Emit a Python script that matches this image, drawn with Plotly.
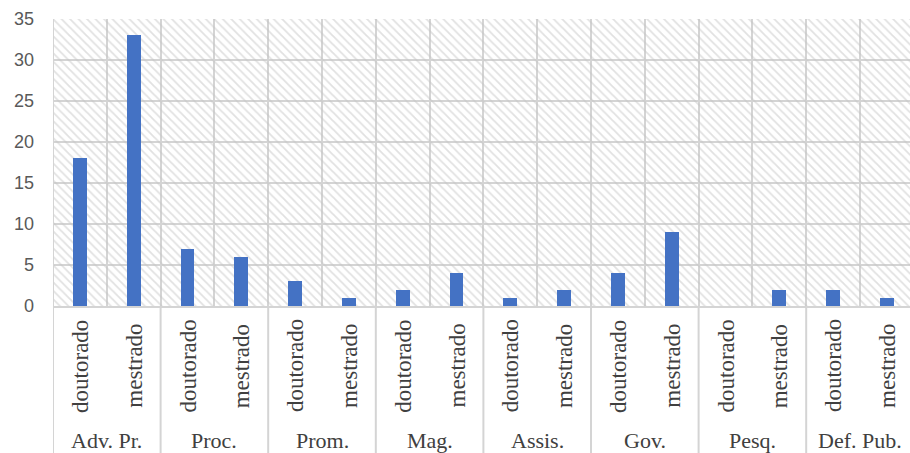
import plotly.graph_objects as go

# Categories and counts
groups = ["Adv. Pr.", "Proc.", "Prom.", "Mag.", "Assis.", "Gov.", "Pesq.", "Def. Pub."]
levels = ["doutorado", "mestrado"]
doutorado = [18, 7, 3, 2, 1, 4, 0, 2]
mestrado = [33, 6, 1, 4, 2, 9, 2, 1]
y_ticks = [0, 5, 10, 15, 20, 25, 30, 35]

BAR_COLOR = "#4472C4"
GRID = "#d4d4d4"
TEXT = "#404040"
SERIF = "Liberation Serif, Times New Roman, serif"

x_max = -0.5 + 857 / 53.8

# flatten group/level pairs into numeric slot positions
xs, ys = [], []
for g in range(len(groups)):
    xs += [2 * g, 2 * g + 1]
    ys += [doutorado[g], mestrado[g]]

fig = go.Figure()

# hatched plot background, drawn as one wide bar behind the data bars
fig.add_trace(go.Bar(
    x=[(x_max - 0.5) / 2], y=[y_ticks[-1]], width=[x_max + 0.5],
    marker=dict(color="rgba(0,0,0,0)", line=dict(width=0),
                pattern=dict(shape="\\", size=6, solidity=0.3,
                             fgcolor="#c4c4c4", bgcolor="rgba(0,0,0,0)")),
    hoverinfo="skip", showlegend=False,
))

fig.add_trace(go.Bar(
    x=xs, y=ys, width=0.26, marker=dict(color=BAR_COLOR, line=dict(width=0)),
    showlegend=False,
))

# inner labels (rotated) and group labels
for g, name in enumerate(groups):
    for k, lev in enumerate(levels):
        fig.add_annotation(
            x=2 * g + k, y=0, xref="x", yref="y",
            text=lev, textangle=-90, showarrow=False,
            xanchor="center", yanchor="middle", yshift=-60,
            font=dict(family=SERIF, size=23, color=TEXT),
        )
    fig.add_annotation(
        x=2 * g + 0.5, y=0, xref="x", yref="y",
        text=name, showarrow=False,
        xanchor="center", yanchor="middle", yshift=-134,
        font=dict(family=SERIF, size=22, color=TEXT),
    )

# group dividers running down through the label area
for g in range(len(groups)):
    x0 = 2 * g - 0.5
    fig.add_shape(type="line", xref="x", yref="paper",
                  x0=x0, x1=x0, y0=1 if g == 0 else 0, y1=-0.52,
                  line=dict(color=GRID, width=2))

fig.update_layout(
    width=910, height=453,
    margin=dict(l=53, r=0, t=19, b=147),
    paper_bgcolor="white", plot_bgcolor="white",
    barmode="overlay", bargap=0,
    xaxis=dict(
        range=[-0.5, x_max], tick0=-0.5, dtick=1, tickmode="linear",
        showticklabels=False, showgrid=True, gridcolor=GRID, gridwidth=2,
        zeroline=False, showline=True, linecolor=GRID, linewidth=2,
    ),
    yaxis=dict(
        range=[0, 35], tickvals=y_ticks, showgrid=True, gridcolor=GRID,
        gridwidth=2, zeroline=False, showline=False,
        ticklabelstandoff=18,
        tickfont=dict(family="Liberation Sans, Arial, sans-serif", size=18, color="#595959"),
    ),
)

fig.write_html("out.html")
